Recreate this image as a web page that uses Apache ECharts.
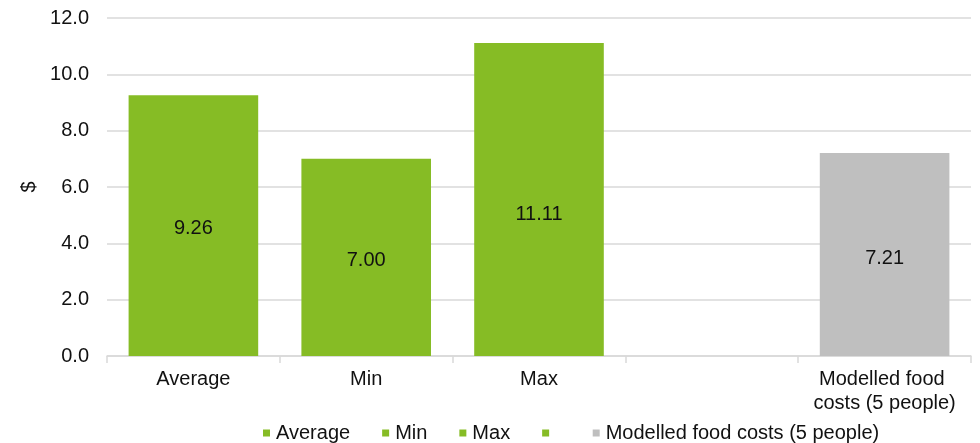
<!DOCTYPE html>
<html>
<head>
<meta charset="utf-8">
<script src="https://cdn.jsdelivr.net/npm/echarts@6/dist/echarts.min.js"></script>
<style>
  html, body { margin: 0; padding: 0; background: #fff; }
  #chart { width: 980px; height: 443px; }
</style>
</head>
<body>
<div id="chart"></div>
<script>
// Categories along the x axis (the fourth slot is intentionally blank)
const categories = ['Average', 'Min', 'Max', ' ', 'Modelled food costs (5 people)'];
// Dollar value per category; the blank slot has no bar
const values = [9.26, 7.00, 11.11, null, 7.21];
// Y axis ticks
const yTicks = [0, 2, 4, 6, 8, 10, 12];

const GREEN = '#86bc25';
const GREY = '#bfbfbf';
const barColors = [GREEN, GREEN, GREEN, GREEN, GREY];
// Vertical nudge of each value label from the bar centre
const labelNudge = [3, 3, 15, 0, 4];

const FONT = 'Liberation Sans, Arial, sans-serif';

// One series per category, stacked so every bar fills its slot width
const series = categories.map((name, i) => ({
  name: name,
  type: 'bar',
  stack: 'all',
  barCategoryGap: '25%',
  itemStyle: { color: barColors[i] },
  label: {
    show: true,
    position: 'inside',
    offset: [0, labelNudge[i]],
    color: '#111',
    fontSize: 20,
    fontFamily: FONT,
    formatter: p => p.value.toFixed(2)
  },
  data: categories.map((c, j) => (j === i && values[j] !== null ? values[j] : '-'))
}));

const chart = echarts.init(document.getElementById('chart'));
chart.setOption({
  animation: false,
  textStyle: { fontFamily: FONT },
  grid: { left: 107, right: 9, top: 18, bottom: 87, containLabel: false },
  legend: {
    data: categories,
    left: 258,
    top: 418,
    itemWidth: 7,
    itemHeight: 7,
    itemGap: 32,
    icon: 'rect',
    selectedMode: false,
    textStyle: { fontSize: 20, color: '#111', fontFamily: FONT, padding: [0, 0, 0, 1] }
  },
  xAxis: {
    type: 'category',
    data: categories,
    axisLine: { lineStyle: { color: '#d9d9d9', width: 1.5 } },
    axisTick: { show: true, length: 7, lineStyle: { color: '#d9d9d9', width: 1.5 } },
    axisLabel: {
      color: '#111',
      fontSize: 20,
      fontFamily: FONT,
      margin: 11,
      lineHeight: 24,
      width: 150,
      overflow: 'break',
      interval: 0
    }
  },
  yAxis: {
    type: 'value',
    min: yTicks[0],
    max: yTicks[yTicks.length - 1],
    interval: 2,
    name: '$',
    nameLocation: 'middle',
    nameRotate: 90,
    nameGap: 66,
    nameTextStyle: { fontSize: 20, color: '#111', fontFamily: FONT },
    axisLine: { show: false },
    axisTick: { show: false },
    splitLine: { lineStyle: { color: '#d9d9d9', width: 1.5 } },
    axisLabel: {
      color: '#111',
      fontSize: 20,
      fontFamily: FONT,
      margin: 18,
      formatter: v => v.toFixed(1)
    }
  },
  series: series
});
</script>
</body>
</html>
